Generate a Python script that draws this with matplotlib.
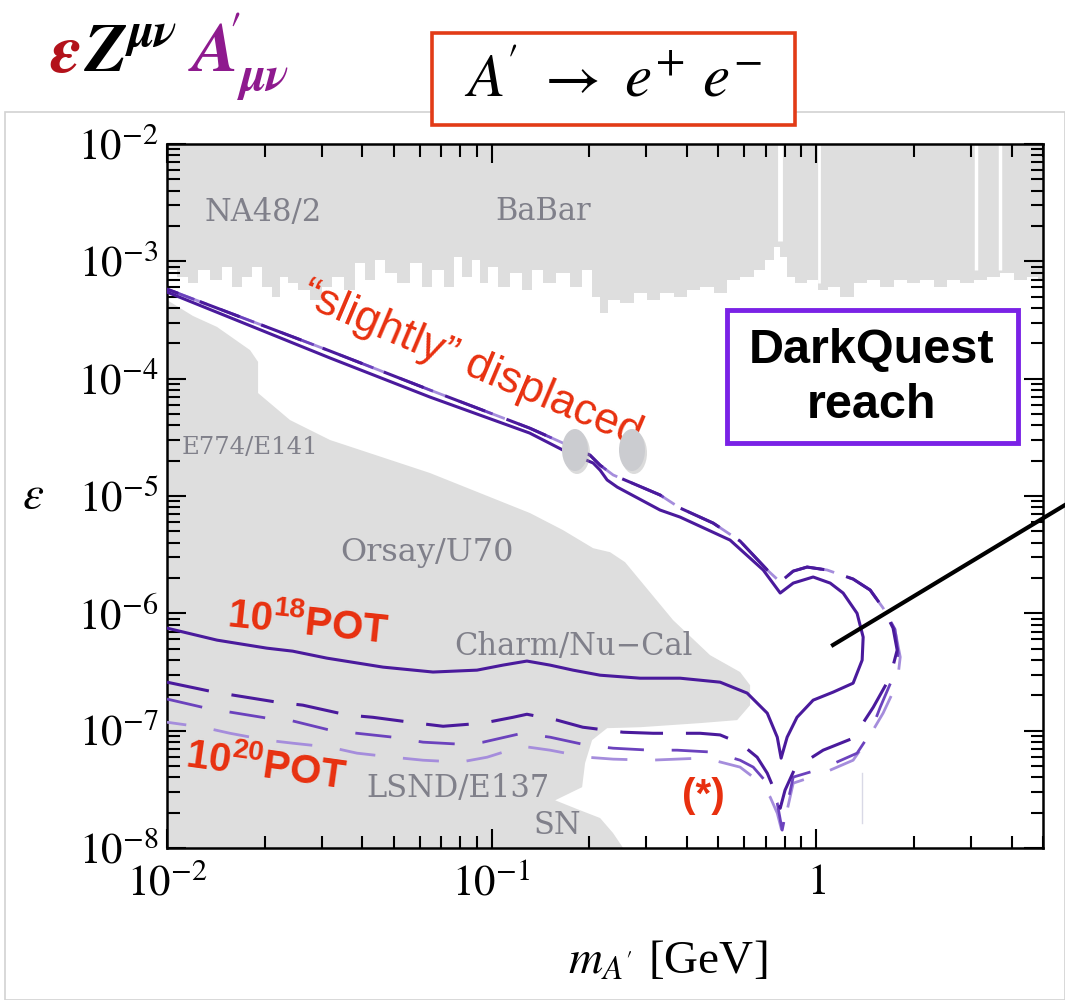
import numpy as np
import matplotlib
matplotlib.use("Agg")
import matplotlib.pyplot as plt
import matplotlib.ticker as mticker
from matplotlib.patches import Ellipse, Rectangle
from matplotlib.lines import Line2D

plt.rcParams["font.family"] = ["Liberation Serif", "DejaVu Serif"]
plt.rcParams["mathtext.fontset"] = "stix"
plt.rcParams["mathtext.bf"] = "Liberation Sans:bold"

# ---- excluded regions ----
# BaBar / NA48/2 upper band: lower edge of the excluded area
babar_mass = [0.0100, 0.0102, 0.0112, 0.0120, 0.0129, 0.0143, 0.0153, 0.0164, 0.0176, 0.0189,
              0.0203, 0.0218, 0.0228, 0.0244, 0.0262, 0.0290, 0.0311, 0.0334, 0.0366, 0.0394,
              0.0422, 0.0453, 0.0487, 0.0534, 0.0589, 0.0633, 0.0679, 0.0745, 0.0783, 0.0840,
              0.0902, 0.0942, 0.101, 0.108, 0.120, 0.1285, 0.138, 0.151, 0.166, 0.183,
              0.197, 0.211, 0.221, 0.237, 0.262, 0.287, 0.315, 0.347, 0.381, 0.418,
              0.461, 0.506, 0.555, 0.613, 0.672, 0.722, 0.759, 0.791, 0.832, 0.893,
              0.979, 1.051, 1.128, 1.246, 1.366, 1.499, 1.655, 1.816, 1.990, 2.198,
              2.411, 2.644, 2.920, 3.202, 3.512, 3.879, 4.254, 4.664, 5.0]
babar_eps = [8.4e-4, 8.4e-4, 7.3e-4, 6.5e-4, 8.4e-4, 6.9e-4, 8.9e-4, 6.0e-4, 7.3e-4, 8.9e-4,
             6.0e-4, 5.0e-4, 7.3e-4, 6.5e-4, 5.7e-4, 4.7e-4, 6.0e-4, 7.3e-4, 5.7e-4, 9.7e-4,
             6.9e-4, 1.03e-3, 7.9e-4, 6.5e-4, 9.7e-4, 6.0e-4, 8.4e-4, 6.0e-4, 1.09e-3, 7.3e-4,
             1.03e-3, 6.5e-4, 8.9e-4, 6.0e-4, 7.9e-4, 5.7e-4, 8.4e-4, 6.5e-4, 7.9e-4, 6.0e-4,
             8.4e-4, 5.0e-4, 3.6e-4, 4.7e-4, 4.4e-4, 5.4e-4, 4.7e-4, 5.4e-4, 5.0e-4, 5.7e-4,
             6.0e-4, 5.4e-4, 6.9e-4, 7.3e-4, 8.4e-4, 1.03e-3, 1.32e-3, 1.09e-3, 7.3e-4, 6.5e-4,
             6.9e-4, 5.7e-4, 6.0e-4, 5.0e-4, 6.5e-4, 6.9e-4, 6.0e-4, 6.9e-4, 6.5e-4, 6.9e-4,
             6.0e-4, 6.9e-4, 6.5e-4, 6.9e-4, 7.3e-4, 7.9e-4, 6.9e-4, 7.3e-4, 6.9e-4]

# resonances where the BaBar search has no sensitivity
gap_mass = [0.775, 1.02, 3.1, 3.69]
gap_floor = [1.5e-3, 6.5e-4, 8.5e-4, 8.5e-4]

# beam dump / supernova region (E774, E141, Orsay, U70, Charm, NuCal, LSND, E137, SN)
dump_mass = [0.01, 0.01203, 0.01426, 0.01803, 0.01908, 0.01908, 0.02393, 0.0318, 0.0646, 0.1314,
             0.166, 0.2056, 0.2318, 0.2578, 0.3625, 0.4713, 0.583, 0.626, 0.626, 0.571,
             0.439, 0.287, 0.227, 0.204, 0.1941, 0.1901, 0.157, 0.1809, 0.216, 0.2368,
             0.2543, 0.01]
dump_eps = [4.68e-4, 3.42e-4, 2.76e-4, 1.75e-4, 1.39e-4, 7.54e-5, 4.44e-5, 3.00e-5, 1.57e-5, 7.15e-6,
            5.12e-6, 3.59e-6, 3.32e-6, 2.73e-6, 8.75e-7, 4.40e-7, 3.16e-7, 2.44e-7, 1.65e-7, 1.23e-7,
            1.16e-7, 1.07e-7, 1.05e-7, 8.3e-8, 5.28e-8, 3.30e-8, 2.55e-8, 2.18e-8, 1.80e-8, 1.34e-8,
            1e-8, 1e-8]

# ---- DarkQuest reach contours ----
# 1e18 POT, solid
pot18_mass = [0.01, 0.01426, 0.0203, 0.0244, 0.0311, 0.0463, 0.066, 0.0902, 0.1084, 0.1285,
              0.1514, 0.1782, 0.216, 0.287, 0.381, 0.506, 0.613, 0.707, 0.759, 0.780,
              0.814, 0.873, 0.979, 1.128, 1.30, 1.386, 1.396, 1.337, 1.211, 1.105,
              0.979, 0.850, 0.775, 0.687, 0.543, 0.381, 0.3305, 0.244, 0.227, 0.216,
              0.2056, 0.166, 0.131, 0.0646, 0.0318, 0.01]
pot18_eps = [7.48e-7, 5.91e-7, 5.05e-7, 4.76e-7, 4.15e-7, 3.48e-7, 3.16e-7, 3.28e-7, 3.62e-7, 3.92e-7,
             3.62e-7, 3.28e-7, 2.97e-7, 2.80e-7, 2.80e-7, 2.59e-7, 2.09e-7, 1.41e-7, 8.8e-8, 5.83e-8,
             8.8e-8, 1.30e-7, 1.82e-7, 2.13e-7, 2.54e-7, 3.99e-7, 6.27e-7, 1.00e-6, 1.49e-6, 1.81e-6,
             2.04e-6, 1.81e-6, 1.49e-6, 2.34e-6, 4.21e-6, 6.61e-6, 7.59e-6, 1.19e-5, 1.37e-5, 1.66e-5,
             1.91e-5, 2.46e-5, 3.44e-5, 6.97e-5, 1.50e-4, 5.47e-4]

# 1e20 POT: upper (short lifetime) edge shared by the three dashed curves
upper_mass = [1.608, 1.467, 1.30, 1.081, 0.938, 0.850, 0.775, 0.707, 0.583, 0.482,
              0.381, 0.3305, 0.237, 0.216, 0.201, 0.131, 0.0646, 0.0318, 0.01]
upper_eps = [1.11e-6, 1.58e-6, 1.96e-6, 2.34e-6, 2.48e-6, 2.29e-6, 1.85e-6, 2.34e-6, 4.13e-6, 5.87e-6,
             7.89e-6, 1.02e-5, 1.51e-5, 1.83e-5, 2.23e-5, 3.79e-5, 8.0e-5, 1.72e-4, 5.80e-4]

pot20_mass = [0.01, 0.01357, 0.01597, 0.0218, 0.0262, 0.0359, 0.0431, 0.0589, 0.0709, 0.0942,
              0.1164, 0.1285, 0.159, 0.191, 0.254, 0.3145, 0.439, 0.506, 0.583, 0.658,
              0.707, 0.737, 0.775, 0.802, 0.861, 1.051, 1.30, 1.499, 1.69, 1.777, 1.726]
pot20_eps = [2.59e-7, 2.17e-7, 2.01e-7, 1.75e-7, 1.65e-7, 1.36e-7, 1.30e-7, 1.16e-7, 1.09e-7, 1.16e-7,
             1.30e-7, 1.38e-7, 1.23e-7, 1.07e-7, 9.7e-8, 9.5e-8, 9.5e-8, 9.2e-8, 7.82e-8, 5.94e-8,
             4.34e-8, 3.30e-8, 2.18e-8, 3.11e-8, 4.79e-8, 6.82e-8, 8.63e-8, 1.58e-7, 2.86e-7, 4.86e-7, 7.48e-7]

pot20b_mass = [0.01, 0.0129, 0.01563, 0.0203, 0.0244, 0.0318, 0.0385, 0.0497, 0.0615, 0.080,
               0.0942, 0.1241, 0.1514, 0.1968, 0.2368, 0.3078, 0.373, 0.482, 0.583, 0.640,
               0.707, 0.737, 0.759, 0.786, 0.820, 0.850, 1.051, 1.337, 1.467, 1.575,
               1.726, 1.79, 1.75]
pot20b_eps = [1.86e-7, 1.58e-7, 1.44e-7, 1.28e-7, 1.21e-7, 1.01e-7, 9.5e-8, 8.8e-8, 7.98e-8, 7.67e-8,
              7.98e-8, 9.5e-8, 8.8e-8, 7.52e-8, 7.09e-8, 6.82e-8, 6.82e-8, 6.56e-8, 5.60e-8, 4.89e-8,
              3.57e-8, 2.93e-8, 2.41e-8, 1.42e-8, 2.55e-8, 4.02e-8, 4.79e-8, 6.43e-8, 9.5e-8, 1.58e-7,
              2.86e-7, 4.58e-7, 7.3e-7]

pot20c_mass = [0.01, 0.0129, 0.01563, 0.0203, 0.0244, 0.0318, 0.0385, 0.0497, 0.0615, 0.080,
               0.0969, 0.1241, 0.1514, 0.1968, 0.2368, 0.3078, 0.439, 0.482, 0.583, 0.658,
               0.722, 0.759, 0.786, 0.814, 0.850, 1.051, 1.30, 1.436, 1.608, 1.777,
               1.816, 1.75]
pot20c_eps = [1.18e-7, 1.07e-7, 9.5e-8, 8.3e-8, 7.82e-8, 7.23e-8, 6.43e-8, 5.94e-8, 5.60e-8, 5.39e-8,
              5.94e-8, 7.37e-8, 6.82e-8, 5.94e-8, 5.72e-8, 5.60e-8, 5.83e-8, 5.60e-8, 4.89e-8, 3.79e-8,
              2.71e-8, 1.98e-8, 1.36e-8, 2.1e-8, 3.57e-8, 4.34e-8, 5.60e-8, 8.3e-8, 1.41e-7, 2.54e-7,
              4.24e-7, 7.19e-7]

x_ticks = [0.01, 0.1, 1]
x_tick_labels = [r"$10^{-2}$", r"$10^{-1}$", r"$1$"]
y_ticks = [1e-8, 1e-7, 1e-6, 1e-5, 1e-4, 1e-3, 1e-2]
y_tick_labels = [r"$10^{-8}$", r"$10^{-7}$", r"$10^{-6}$", r"$10^{-5}$",
                 r"$10^{-4}$", r"$10^{-3}$", r"$10^{-2}$"]

GRAY = "#dedede"
LABEL = "#80808a"
DARK = "#4a1a9c"
MED = "#6b42bd"
LIGHT = "#a58ddc"
RED = "#e8300f"

W, H = 1065, 1000


def fx(px):
    return px / W


def fy(py):
    return 1 - py / H


fig = plt.figure(figsize=(W / 100, H / 100), dpi=100)
ax = fig.add_axes([fx(167), fy(848), fx(1043) - fx(167), fy(144) - fy(848)])
ax.set_xscale("log")
ax.set_yscale("log")
ax.set_xlim(0.01, 5)
ax.set_ylim(1e-8, 1e-2)

ax.fill_between(babar_mass, babar_eps, 1e-2, step="mid", color=GRAY, lw=0, zorder=1)
ax.vlines(gap_mass, gap_floor, 1e-2, colors="white", lw=[3.5, 2.0, 2.5, 2.5], zorder=1.5)
ax.fill(dump_mass, dump_eps, color=GRAY, lw=0, zorder=1)

ax.plot(pot18_mass, pot18_eps, color=DARK, lw=2.2, zorder=4, solid_joinstyle="round")
ax.plot(pot20c_mass + upper_mass, pot20c_eps + upper_eps, color=LIGHT, lw=2.0,
        ls=(6, (13, 10)), zorder=3)
ax.plot(pot20b_mass + upper_mass, pot20b_eps + upper_eps, color=MED, lw=2.0,
        ls=(0, (13, 10)), zorder=3.5)
ax.plot(pot20_mass + upper_mass, pot20_eps + upper_eps, color=DARK, lw=2.2,
        ls=(0, (14, 7.5)), zorder=4)

# axes styling
ax.xaxis.set_major_locator(mticker.FixedLocator(x_ticks))
ax.xaxis.set_major_formatter(mticker.FixedFormatter(x_tick_labels))
ax.yaxis.set_major_locator(mticker.FixedLocator(y_ticks))
ax.yaxis.set_major_formatter(mticker.FixedFormatter(y_tick_labels))
for axis in (ax.xaxis, ax.yaxis):
    axis.set_minor_locator(mticker.LogLocator(base=10, subs=np.arange(2, 10), numticks=20))
    axis.set_minor_formatter(mticker.NullFormatter())
ax.tick_params(which="both", direction="in", top=True, right=True, width=1.5, colors="black")
ax.tick_params(which="major", length=14, labelsize=31)
ax.tick_params(which="minor", length=9)
ax.tick_params(axis="x", which="major", pad=12)
ax.tick_params(axis="y", which="major", pad=6)
for s in ax.spines.values():
    s.set_linewidth(1.8)

# region names
tf = fig.transFigure
for txt, px, py, size in [("NA48/2", 263, 212, 22), ("BaBar", 543, 212, 22),
                          ("E774/E141", 250, 447, 17.5), ("Orsay/U70", 427, 553, 23),
                          ("Charm/Nu\u2212Cal", 573, 647, 22), ("LSND/E137", 458, 789, 22),
                          ("SN", 557, 826, 22)]:
    ax.text(fx(px), fy(py), txt, transform=tf, ha="center", va="center",
            fontsize=size, color=LABEL, family="DejaVu Serif", zorder=2)

# annotations
ax.text(fx(472), fy(365), "\u201cslightly\u201d displaced", transform=tf, rotation=-23,
        rotation_mode="anchor", ha="center", va="center", fontsize=32, color=RED,
        family="Liberation Sans", zorder=6)
ax.text(fx(308), fy(624), r"$\mathbf{10^{18}POT}$", transform=tf, rotation=-6,
        rotation_mode="anchor", ha="center", va="center", fontsize=29, color=RED,
        math_fontfamily="custom", zorder=6)
ax.text(fx(266), fy(767), r"$\mathbf{10^{20}POT}$", transform=tf, rotation=-8,
        rotation_mode="anchor", ha="center", va="center", fontsize=29, color=RED,
        math_fontfamily="custom", zorder=6)
ax.text(fx(703), fy(796), "(*)", transform=tf, ha="center", va="center", fontsize=29,
        color=RED, family="Liberation Sans", weight="bold", zorder=6)

for px in (575, 632):
    ax.add_patch(Ellipse((fx(px + 2), fy(453)), 26 / W, 42 / H, transform=tf,
                         color="#9a9a9a", alpha=0.35, lw=0, zorder=6))
    ax.add_patch(Ellipse((fx(px), fy(450)), 26 / W, 42 / H, transform=tf,
                         color="#cbccd0", lw=0, zorder=6.5))

ax.add_patch(Rectangle((fx(727), fy(443)), fx(1018) - fx(727), fy(310) - fy(443),
                       transform=tf, fc="white", ec="#7a22e6", lw=3.5, zorder=7))
ax.text(fx(872), fy(378), "DarkQuest\nreach", transform=tf, ha="center", va="center",
        fontsize=35, weight="bold", family="Liberation Sans", linespacing=1.3,
        color="black", zorder=8)

fig.add_artist(Line2D([fx(833), fx(1065)], [fy(645), fy(505)], color="black", lw=3.0))
fig.add_artist(Line2D([fx(862), fx(862)], [fy(773), fy(823)], color="#d9d9e6", lw=1))

# panel edge
fig.add_artist(Rectangle((fx(5), 0), 1 - fx(5), fy(112), transform=tf, fill=False,
                         ec="#d2d2d2", lw=1.2, zorder=0.5))

# axis titles
fig.text(fx(668), fy(962), r"$m_{A'}$ [GeV]", ha="center", va="center", fontsize=34)
fig.text(fx(33), fy(497), r"$\epsilon$", ha="center", va="center", fontsize=34)

# Lagrangian term and decay channel
fig.text(fx(50), fy(72), r"$\mathbfit{\epsilon}$", fontsize=50, color="#b3121b", va="baseline")
fig.text(fx(84), fy(72), r"$\mathbfit{Z}^{\mathbfit{\mu\nu}}$", fontsize=50, color="black",
         va="baseline")
fig.text(fx(188), fy(72), r"$\mathbfit{A}^{\!\!\prime}_{\mathbfit{\mu\nu}}$", fontsize=50,
         color="#8e1a8e", va="baseline")

fig.add_artist(Rectangle((fx(432), fy(125)), fx(795) - fx(432), fy(33) - fy(125),
                         transform=tf, fc="white", ec="#e23b17", lw=2.6, zorder=5))
fig.text(fx(613), fy(82), r"$A^{\!\prime}\ \rightarrow\ e^{+}\ e^{-}$", ha="center",
         va="center", fontsize=44, zorder=6)

fig.savefig("out.png", dpi=100)
